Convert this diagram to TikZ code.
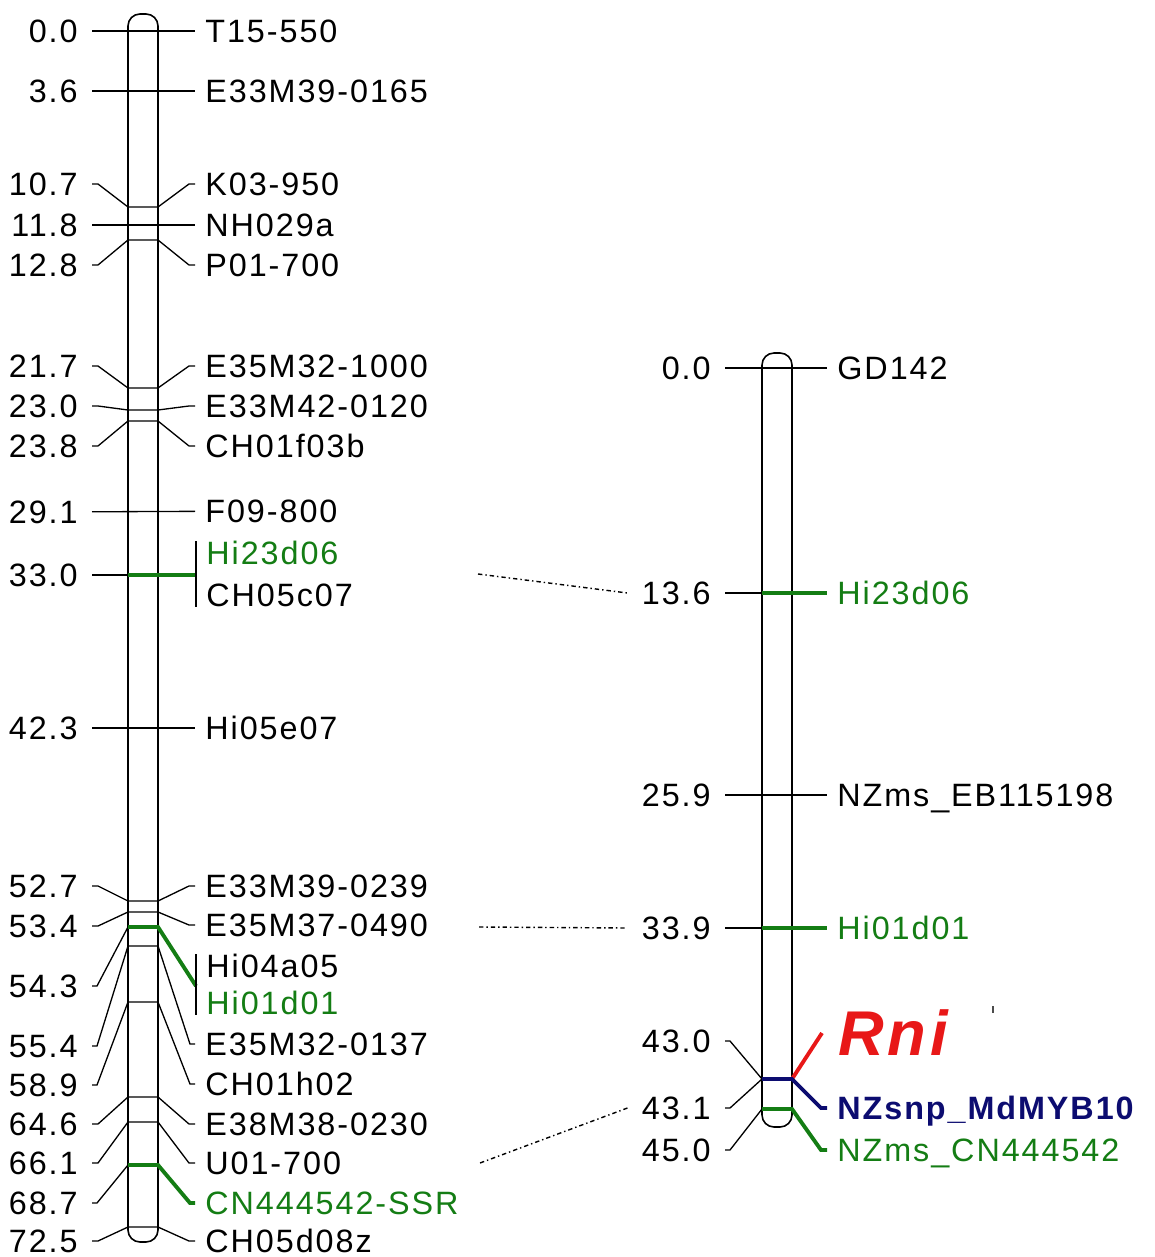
\documentclass[tikz,border=0pt]{standalone}
\usepackage{fontspec}
\setmainfont{Liberation Sans}[LetterSpace=6.0]
\usepackage{tikz}

\definecolor{mkgreen}{RGB}{20,125,20}
\definecolor{mknavy}{RGB}{12,12,112}
\definecolor{mkred}{RGB}{232,24,24}

\tikzset{
  cmlab/.style={anchor=east, inner xsep=8pt, inner ysep=0pt, text height=13pt, text depth=0pt, font=\fontsize{18.4}{20}\selectfont},
  mklab/.style={anchor=west, inner xsep=5.7pt, inner ysep=0pt, text height=13pt, text depth=0pt, font=\fontsize{18.4}{20}\selectfont},
  chrom/.style={line width=0.9pt, rounded corners=0.24cm},
  tick/.style={line width=0.75pt},
  hit/.style={line width=2.2pt, mkgreen},
  link/.style={line width=0.8pt, dash pattern=on 2.5pt off 1.7pt on 0.8pt off 1.7pt}
}

\begin{document}
\begin{tikzpicture}[x=0.02cm, y=-0.02cm]
        \useasboundingbox (0,0) rectangle (1154,1257);

        % Chromosomes
        \draw[chrom] (128,14) rectangle (158,1242);
        \draw[chrom] (762,353) rectangle (792,1127);

        % Left map: positions
        \node[cmlab] (c00) at (92,31) {0.0};
        \node[cmlab] (c36) at (92,91) {3.6};
        \node[cmlab] (c107) at (92,184) {10.7};
        \node[cmlab] (c118) at (92,225) {11.8};
        \node[cmlab] (c128) at (92,265) {12.8};
        \node[cmlab] (c217) at (92,366) {21.7};
        \node[cmlab] (c230) at (92,406) {23.0};
        \node[cmlab] (c238) at (92,446) {23.8};
        \node[cmlab] (c291) at (92,512) {29.1};
        \node[cmlab] (c330) at (92,575) {33.0};
        \node[cmlab] (c423) at (92,728) {42.3};
        \node[cmlab] (c527) at (92,886) {52.7};
        \node[cmlab] (c534) at (92,926) {53.4};
        \node[cmlab] (c543) at (92,986) {54.3};
        \node[cmlab] (c554) at (92,1046) {55.4};
        \node[cmlab] (c589) at (92,1085) {58.9};
        \node[cmlab] (c646) at (92,1124) {64.6};
        \node[cmlab] (c661) at (92,1163) {66.1};
        \node[cmlab] (c687) at (92,1203) {68.7};
        \node[cmlab] (c725) at (92,1241) {72.5};

        % Left map: markers
        \node[mklab] (t15) at (195,31) {T15-550};
        \node[mklab] (e165) at (195,91) {E33M39-0165};
        \node[mklab] (k03) at (195,184) {K03-950};
        \node[mklab] (nh029) at (195,225) {NH029a};
        \node[mklab] (p01) at (195,265) {P01-700};
        \node[mklab] (e1000) at (195,366) {E35M32-1000};
        \node[mklab] (e120) at (195,406) {E33M42-0120};
        \node[mklab] (ch01f) at (195,446) {CH01f03b};
        \node[mklab] (f09) at (195,511) {F09-800};
        \node[mklab, mkgreen] (hi23) at (196,553) {Hi23d06};
        \node[mklab] (ch05c) at (196,595) {CH05c07};
        \node[mklab] (hi05) at (195,728) {Hi05e07};
        \node[mklab] (e239) at (195,886) {E33M39-0239};
        \node[mklab] (e490) at (195,925) {E35M37-0490};
        \node[mklab] (hi04) at (196,966) {Hi04a05};
        \node[mklab, mkgreen] (hi01) at (196,1003) {Hi01d01};
        \node[mklab] (e137) at (195,1044) {E35M32-0137};
        \node[mklab] (ch01h) at (195,1084) {CH01h02};
        \node[mklab] (e230) at (195,1124) {E38M38-0230};
        \node[mklab] (u01) at (195,1163) {U01-700};
        \node[mklab, mkgreen] (cn44) at (195,1203) {CN444542-SSR};
        \node[mklab] (ch05d) at (195,1241) {CH05d08z};

        % Left map: ticks
        \draw[tick] (c00) -- (t15);
        \draw[tick] (c36) -- (e165);
        \draw[tick] (c107.east) -- +(6,0) -- (128,207) -- (158,207) -- (189,184) -- (k03.west);
        \draw[tick] (c118) -- (nh029);
        \draw[tick] (c128.east) -- +(6,0) -- (128,240) -- (158,240) -- (189,265) -- (p01.west);
        \draw[tick] (c217.east) -- +(6,0) -- (128,388) -- (158,388) -- (189,366) -- (e1000.west);
        \draw[tick] (c230.east) -- +(6,0) -- (128,410) -- (158,410) -- (189,406) -- (e120.west);
        \draw[tick] (c238.east) -- +(6,0) -- (128,421) -- (158,421) -- (189,446) -- (ch01f.west);
        \draw[tick] (c291) -- (f09);
        \draw[tick] (c330) -- (128,575);
        \draw[hit] (128,575) -- (c330 -| hi23.west);
        \draw[tick] (hi23.north west) -- (ch05c.south west);
        \draw[tick] (c423) -- (hi05);
        \draw[tick] (c527.east) -- +(6,0) -- (128,901) -- (158,901) -- (189,886) -- (e239.west);
        \draw[tick] (c534.east) -- +(6,0) -- (128,912) -- (158,912) -- (189,925) -- (e490.west);
        \draw[tick] (c543.east) -- +(5,0) -- (128,927);
        \draw[hit] (128,927) -- (158,927) -- (hi04.west |- c543);
        \draw[tick] (hi04.north west) -- (hi01.south west);
        \draw[tick] (c554.east) -- +(5,0) -- (128,946) -- (158,946) -- (190,1044) -- (e137.west);
        \draw[tick] (c589.east) -- +(5,0) -- (128,1002) -- (158,1002) -- (190,1084) -- (ch01h.west);
        \draw[tick] (c646.east) -- +(6,0) -- (128,1097) -- (158,1097) -- (189,1124) -- (e230.west);
        \draw[tick] (c661.east) -- +(6,0) -- (128,1122) -- (158,1122) -- (189,1163) -- (u01.west);
        \draw[tick] (c687.east) -- +(5,0) -- (128,1165);
        \draw[hit] (128,1165) -- (158,1165) -- (190,1203) -- (cn44.west);
        \draw[tick] (c725.east) -- +(6,0) -- (128,1227) -- (158,1227) -- (189,1241) -- (ch05d.west);

        % Right map: positions
        \node[cmlab] (r00) at (725,368) {0.0};
        \node[cmlab] (r136) at (725,593) {13.6};
        \node[cmlab] (r259) at (725,795) {25.9};
        \node[cmlab] (r339) at (725,928) {33.9};
        \node[cmlab] (r430) at (725,1041) {43.0};
        \node[cmlab] (r431) at (725,1108) {43.1};
        \node[cmlab] (r450) at (725,1150) {45.0};

        % Right map: markers
        \node[mklab] (gd142) at (827,368) {GD142};
        \node[mklab, mkgreen] (hi23b) at (827,593) {Hi23d06};
        \node[mklab] (nzeb) at (827,795) {NZms\_EB115198};
        \node[mklab, mkgreen] (hi01b) at (827,928) {Hi01d01};
        \node[mklab, mkred, inner xsep=9pt, text height=26pt, font=\fontsize{36}{38}\selectfont\bfseries\itshape] (rni) at (822,1033) {Rni};
        \node[mklab, mknavy, font=\fontsize{18.4}{20}\selectfont\bfseries] (nzsnp) at (827,1108) {NZsnp\_MdMYB10};
        \node[mklab, mkgreen] (nzcn) at (827,1150) {NZms\_CN444542};

        % Right map: ticks
        \draw[tick] (r00) -- (gd142);
        \draw[tick] (r136) -- (762,593);
        \draw[hit] (762,593) -- (hi23b);
        \draw[tick] (r259) -- (nzeb);
        \draw[tick] (r339) -- (762,928);
        \draw[hit] (762,928) -- (hi01b);
        \draw[tick] (r430.east) -- +(5,0) -- (762,1079);
        \draw[tick] (r431.east) -- +(5,0) -- (762,1079);
        \draw[tick] (r450.east) -- +(5,0) -- (762,1109);
        \draw[hit, mkred] (792,1079) -- (rni.west);
        \draw[hit, mknavy] (762,1079) -- (792,1079) -- (821,1108) -- (nzsnp.west);
        \draw[hit] (762,1109) -- (792,1109) -- (821,1150) -- (nzcn.west);
        \draw[line width=0.7pt, black!70] (993,1006) -- (993,1013);

        % Links between maps
        \coordinate (la) at (478,574);
        \coordinate (lb) at (479,927);
        \coordinate (lc) at (480,1163);
        \draw[link] (la) -- (r136.west);
        \draw[link] (lb) -- (r339.west);
        \draw[link] (lc) -- (r431.west);
    \end{tikzpicture}
\end{document}
